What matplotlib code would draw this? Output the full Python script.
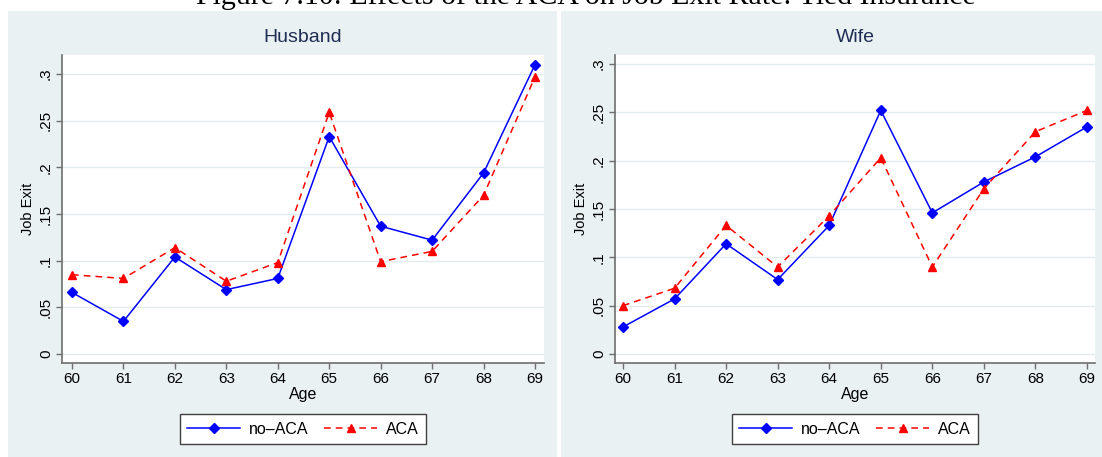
import matplotlib
matplotlib.use("Agg")
import matplotlib.pyplot as plt
from matplotlib.patches import Rectangle
from matplotlib.lines import Line2D

# ---- data ----
ages = [60, 61, 62, 63, 64, 65, 66, 67, 68, 69]
husband_no_aca = [0.066, 0.035, 0.104, 0.069, 0.081, 0.233, 0.137, 0.122, 0.194, 0.310]
husband_aca = [0.085, 0.081, 0.114, 0.078, 0.098, 0.259, 0.099, 0.110, 0.170, 0.297]
wife_no_aca = [0.028, 0.057, 0.114, 0.077, 0.133, 0.252, 0.146, 0.178, 0.204, 0.235]
wife_aca = [0.050, 0.068, 0.133, 0.090, 0.143, 0.203, 0.090, 0.171, 0.230, 0.252]
yticks = [0, 0.05, 0.1, 0.15, 0.2, 0.25, 0.3]
ytick_labels = ["0", ".05", ".1", ".15", ".2", ".25", ".3"]
panel_titles = ["Husband", "Wife"]
series_labels = ["no\u2013ACA", "ACA"]
fig_title = "Figure 7.10: Effects of the ACA on Job Exit Rate: Tied Insurance"

W, H = 1102, 457
BG = "#EAF1F3"
TITLE_C = "#1F2D54"
SPINE_C = "#6E6E6E"

plt.rcParams['font.family'] = ['Liberation Sans', 'DejaVu Sans']
fig = plt.figure(figsize=(W / 100, H / 100), dpi=100, facecolor="white")

def px_rect(x0, y0, x1, y1):
    return [x0 / W, 1 - y1 / H, (x1 - x0) / W, (y1 - y0) / H]

# panel backgrounds
for (x0, x1) in [(8, 557), (561, 1102)]:
    r = px_rect(x0, 11, x1, 457)
    fig.patches.append(Rectangle((r[0], r[1]), r[2], r[3], transform=fig.transFigure,
                                 facecolor=BG, edgecolor="none", zorder=-10))

# clipped figure title at top (cut off in the reference too)
t = fig.text(586 / W, 1 - 3.5 / H, fig_title, family="Liberation Serif",
             fontsize=20, ha="center", va="baseline", color="black")
fig.canvas.draw()
bb = t.get_window_extent()
t.set_fontsize(20 * 780 / bb.width)

panels = [
    dict(rect=px_rect(62, 55, 544, 363), xlim=(59.806, 69.175), ylim=(-0.0096, 0.3204),
         no=husband_no_aca, aca=husband_aca, title=panel_titles[0], legx=303),
    dict(rect=px_rect(615, 55, 1095, 363), xlim=(59.845, 69.155), ylim=(-0.0093, 0.3093),
         no=wife_no_aca, aca=wife_aca, title=panel_titles[1], legx=855),
]

for p in panels:
    ax = fig.add_axes(p["rect"], zorder=2)
    ax.set_facecolor("white")
    ax.plot(ages, p["no"], color="blue", lw=1.1, marker="D", ms=5.4,
            markeredgecolor="blue", markerfacecolor="blue", zorder=3)
    ax.plot(ages, p["aca"], color="red", lw=1.1, dashes=(4.4, 3.3), marker="^", ms=6.4,
            markeredgecolor="red", markerfacecolor="red", zorder=3)
    ax.set_xlim(*p["xlim"])
    ax.set_ylim(*p["ylim"])
    ax.set_xticks(ages)
    ax.set_xticklabels([str(a) for a in ages], fontsize=11)
    ax.set_yticks(yticks)
    ax.set_yticklabels(ytick_labels, fontsize=11, rotation=90, va="center")
    ax.grid(axis="y", color="#E3ECEF", lw=1.0)
    ax.set_axisbelow(True)
    for s in ["top", "right"]:
        ax.spines[s].set_visible(False)
    for s in ["left", "bottom"]:
        ax.spines[s].set_color(SPINE_C)
        ax.spines[s].set_linewidth(1.2)
    ax.tick_params(axis="both", direction="out", length=4, width=1.0, color=SPINE_C,
                   labelcolor="black", pad=2.5)
    ax.set_xlabel("Age", fontsize=11.5, labelpad=1)
    ax.set_ylabel("Job Exit", fontsize=10.5, labelpad=3)
    ax.set_title(p["title"], fontsize=14, color=TITLE_C, pad=9)

    handles = [
        Line2D([], [], color="blue", lw=1.1, marker="D", ms=5.4),
        Line2D([], [], color="red", lw=1.1, dashes=(4.4, 3.3), marker="^", ms=6.4),
    ]
    leg = fig.legend(handles, series_labels, loc="center",
                     bbox_to_anchor=(p["legx"] / W, 1 - 429 / H), ncol=2, fontsize=11.5,
                     frameon=True, fancybox=False, edgecolor="#404040", facecolor="white",
                     framealpha=1, handlelength=3.3, numpoints=1, columnspacing=1.0,
                     handletextpad=0.55, borderpad=0.45)
    leg.set_zorder(3)

fig.savefig("out.png", dpi=100, facecolor="white")
